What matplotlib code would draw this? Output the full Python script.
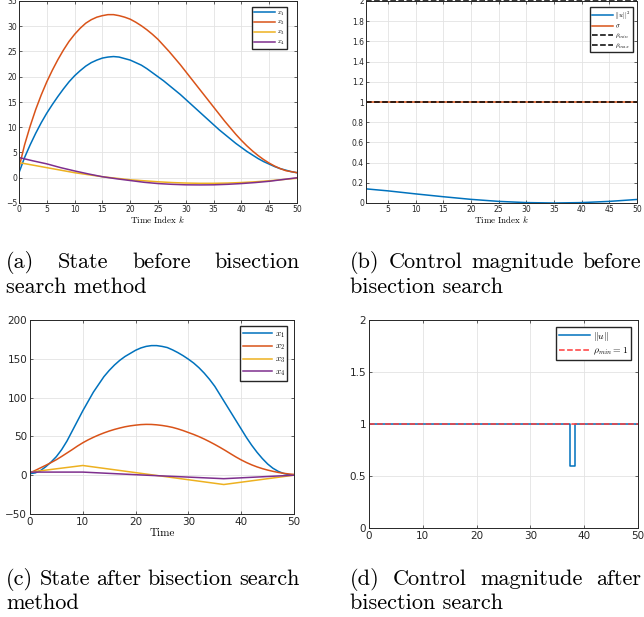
import matplotlib
matplotlib.use('Agg')
import matplotlib.pyplot as plt
import numpy as np

plt.rcParams['mathtext.fontset'] = 'cm'
plt.rcParams['font.family'] = 'DejaVu Sans'

W, H = 644, 617
blue, orange, yellow, purple = '#0072BD', '#D95319', '#EDB120', '#7E2F8E'

# (a) state before bisection search
ka = list(range(0, 51))
xa1 = [1, 4, 6.5, 8.8, 10.9, 12.8, 14.5, 16.1, 17.6, 19.0, 20.2, 21.2, 22.1, 22.8, 23.3, 23.7, 23.9, 24.0,
       23.9, 23.6, 23.3, 22.8, 22.3, 21.6, 20.8, 20.0, 19.2, 18.3, 17.4, 16.5, 15.5, 14.5, 13.5, 12.5,
       11.5, 10.5, 9.5, 8.6, 7.7, 6.8, 6.0, 5.2, 4.5, 3.8, 3.2, 2.7, 2.2, 1.8, 1.5, 1.2, 1.0]
xa2 = [2, 6.5, 10.2, 13.5, 16.4, 19.0, 21.3, 23.4, 25.3, 27.0, 28.4, 29.6, 30.6, 31.3, 31.8, 32.1, 32.3,
       32.3, 32.1, 31.8, 31.4, 30.8, 30.1, 29.3, 28.4, 27.4, 26.2, 25.0, 23.7, 22.4, 21.0, 19.6, 18.2,
       16.8, 15.4, 14.0, 12.6, 11.2, 9.9, 8.6, 7.4, 6.3, 5.3, 4.4, 3.6, 2.9, 2.3, 1.8, 1.4, 1.2, 1.0]
ka34 = [0, 2.5, 5, 7.5, 10, 12.5, 15, 17.5, 20, 22.5, 25, 27.5, 30, 32.5, 35, 37.5, 40, 42.5, 45, 47.5, 50]
xa3 = [3, 2.5, 2.0, 1.5, 1.0, 0.6, 0.2, -0.1, -0.4, -0.6, -0.8, -0.95, -1.05, -1.1, -1.1, -1.05, -0.95,
       -0.8, -0.6, -0.35, -0.1]
xa4 = [4, 3.35, 2.75, 2.0, 1.35, 0.75, 0.2, -0.2, -0.55, -0.9, -1.15, -1.3, -1.4, -1.42, -1.4, -1.3,
       -1.15, -0.95, -0.7, -0.35, 0.0]

# (b) control magnitude before bisection search
kb = [1, 5, 10, 15, 20, 25, 30, 35, 40, 45, 50]
u2b = [0.14, 0.12, 0.09, 0.062, 0.036, 0.016, 0.004, 0.0, 0.004, 0.016, 0.035]
sigma_b = [1.0] * len(kb)
rho_min_b, rho_max_b = 1.0, 2.0

# (c) state after bisection search
tc = list(range(0, 51))
xc1 = [2, 3, 6, 11, 17, 24, 33, 44, 57, 70, 83, 95, 107, 117, 127, 135, 142, 148, 153, 157, 161, 164,
       166, 167, 167, 166, 164.5, 161.5, 158, 154, 149.5, 144.5, 138.5, 131.5, 123.5, 114.5, 103.5,
       92.5, 81.5, 70.5, 59.5, 48.5, 38.5, 29.5, 21.5, 14.5, 9, 5, 2.3, 0.8, 0]
xc2 = [3, 6.2, 9.5, 12.8, 16.3, 20, 24.2, 28.6, 33, 37.6, 41.8, 45.5, 48.8, 51.8, 54.5, 56.9, 59, 60.8,
       62.4, 63.6, 64.5, 65.2, 65.5, 65.4, 64.9, 64.1, 63, 61.6, 59.7, 57.5, 55, 52.5, 49.7, 46.6, 43.2,
       39.6, 35.8, 31.8, 27.6, 23.5, 19.7, 16.3, 13.3, 10.7, 8.5, 6.6, 5, 3.6, 2.5, 1.6, 1]
tc3 = [0, 10, 36.7, 50]
xc3 = [4, 12.5, -12, 0]
tc4 = [0, 10, 22, 36.7, 50]
xc4 = [4, 4, 0, -4.5, 0]

# (d) control magnitude after bisection search
td = [0, 37.3, 37.3, 38.2, 38.2, 50]
ud = [1, 1, 0.6, 0.6, 1, 1]
rho_min_d = 1.0


def add_ax(left, top, right, bottom):
    ax = fig.add_axes([left / W, 1 - bottom / H, (right - left) / W, (bottom - top) / H])
    ax.grid(True, color='#e3e3e3', linewidth=0.6)
    ax.set_axisbelow(True)
    ax.tick_params(direction='in', top=True, right=True, length=2.5, width=0.5, colors='#262626')
    for s in ax.spines.values():
        s.set_linewidth(0.7)
        s.set_color('#262626')
    return ax


def legend(ax, x, y, size):
    return ax.legend(loc='upper right', bbox_to_anchor=(x, y), fancybox=False, edgecolor='#262626',
                     framealpha=1, prop={'size': size}, handlelength=3.2, borderpad=0.3,
                     labelspacing=0.25, handletextpad=0.3, borderaxespad=0)


fig = plt.figure(figsize=(W / 100, H / 100), dpi=100)

# panel (a)
ax = add_ax(19, 1, 297, 203)
ax.plot(ka, xa1, color=blue, lw=1.1, label='$x_1$')
ax.plot(ka, xa2, color=orange, lw=1.1, label='$x_2$')
ax.plot(ka34, xa3, color=yellow, lw=1.1, label='$x_3$')
ax.plot(ka34, xa4, color=purple, lw=1.1, label='$x_4$')
ax.set_xlim(0, 50)
ax.set_ylim(-5, 35)
ax.set_xticks(range(0, 51, 5))
ax.set_yticks(range(-5, 36, 5))
ax.tick_params(labelsize=5.5, pad=1.5)
ax.set_xlabel('Time Index $k$', family='cmr10', fontsize=6.5, labelpad=0)
legend(ax, 0.965, 0.968, 4.8)

# panel (b)
ax = add_ax(366, 1, 637, 203)
ax.plot(kb, u2b, color=blue, lw=1.1, label='$||u||^2$')
ax.plot(kb, sigma_b, color=orange, lw=1.1, label=r'$\sigma$')
ax.axhline(rho_min_b, color='k', ls='--', lw=1.1, label=r'$\rho_{min}$')
ax.axhline(rho_max_b, color='k', ls='--', lw=1.1, label=r'$\rho_{max}$', clip_on=False)
ax.set_xlim(1, 50)
ax.set_ylim(0, 2)
ax.set_xticks(range(5, 51, 5))
ax.set_yticks(np.arange(0, 2.01, 0.2))
ax.set_yticklabels(['0', '0.2', '0.4', '0.6', '0.8', '1', '1.2', '1.4', '1.6', '1.8', '2'])
ax.tick_params(labelsize=5.5, pad=1.5)
ax.set_xlabel('Time Index $k$', family='cmr10', fontsize=6.5, labelpad=0)
legend(ax, 0.985, 0.968, 4.8)

# panel (c)
ax = add_ax(30, 320, 294, 514)
ax.plot(tc, xc1, color=blue, lw=1.1, label='$x_1$')
ax.plot(tc, xc2, color=orange, lw=1.1, label='$x_2$')
ax.plot(tc3, xc3, color=yellow, lw=1.1, label='$x_3$')
ax.plot(tc4, xc4, color=purple, lw=1.1, label='$x_4$')
ax.set_xlim(0, 50)
ax.set_ylim(-50, 200)
ax.set_xticks(range(0, 51, 10))
ax.set_yticks(range(-50, 201, 50))
ax.tick_params(labelsize=7.5, pad=2)
ax.set_xlabel('Time', family='cmr10', fontsize=8, labelpad=1)
legend(ax, 0.975, 0.967, 6.5)

# panel (d)
ax = add_ax(369, 320, 638, 528)
ax.plot(td, ud, color=blue, lw=1.1, label=r'$\|u\|$')
ax.axhline(rho_min_d, color='#ff3b3b', ls='--', lw=1.1, label=r'$\rho_{min}=1$')
ax.set_xlim(0, 50)
ax.set_ylim(0, 2)
ax.set_xticks(range(0, 51, 10))
ax.set_yticks([0, 0.5, 1, 1.5, 2])
ax.set_yticklabels(['0', '0.5', '1', '1.5', '2'])
ax.tick_params(labelsize=7.5, pad=2)
legend(ax, 0.975, 0.967, 7)

# captions (justified first lines)
renderer = fig.canvas.get_renderer()
CAP = 16


def justify(words, x0, x1, y, size=CAP):
    texts = [fig.text(0, 1 - y / H, w, family='cmr10', fontsize=size, va='baseline') for w in words]
    widths = [t.get_window_extent(renderer).width for t in texts]
    gap = (x1 - x0 - sum(widths)) / (len(words) - 1)
    x = x0
    for t, w in zip(texts, widths):
        t.set_x(x / W)
        x += w + gap


def line(text, x0, y, size=CAP):
    fig.text(x0 / W, 1 - y / H, text, family='cmr10', fontsize=size, va='baseline')


justify(['(a)', 'State', 'before', 'bisection'], 6, 300, 268)
line('search method', 6, 293)
justify(['(b)', 'Control', 'magnitude', 'before'], 350, 641, 268)
line('bisection search', 350, 293)
justify(['(c)', 'State', 'after', 'bisection', 'search'], 6, 300, 585)
line('method', 6, 609)
justify(['(d)', 'Control', 'magnitude', 'after'], 350, 641, 585)
line('bisection search', 350, 609)

fig.savefig('out.png', dpi=100)
